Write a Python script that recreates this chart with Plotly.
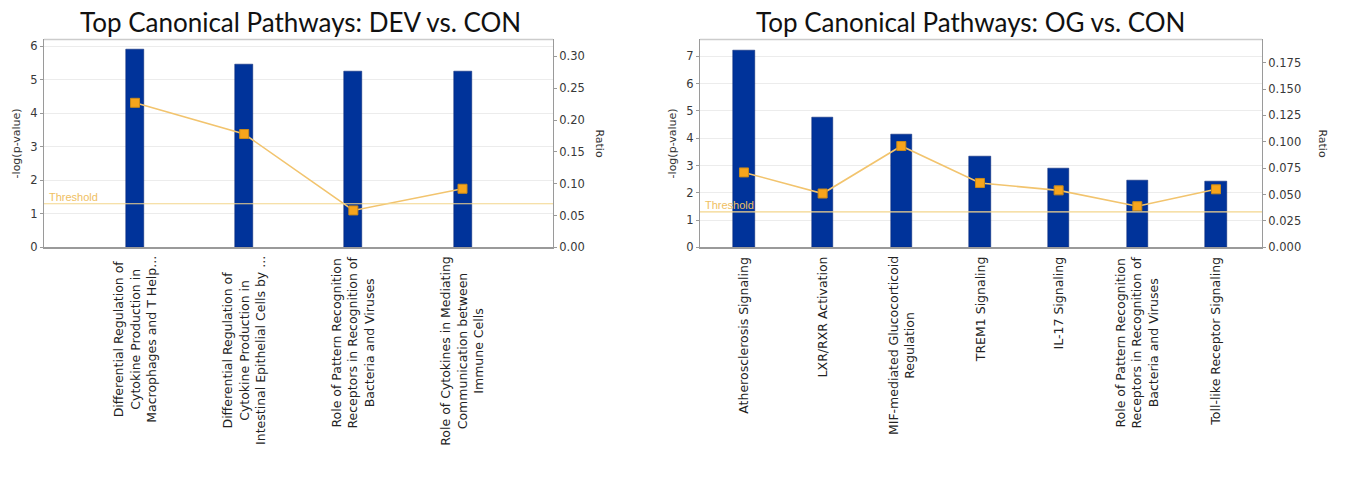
import plotly.graph_objects as go

# ---------------- data ----------------
dev_categories = [
    "Differential Regulation of<br>Cytokine Production in<br>Macrophages and T Help...",
    "Differential Regulation of<br>Cytokine Production in<br>Intestinal Epithelial Cells by ...",
    "Role of Pattern Recognition<br>Receptors in Recognition of<br>Bacteria and Viruses",
    "Role of Cytokines in Mediating<br>Communication between<br>Immune Cells",
]
dev_logp = [5.9, 5.45, 5.25, 5.25]
dev_ratio = [0.227, 0.178, 0.058, 0.092]

og_categories = [
    "Atherosclerosis Signaling",
    "LXR/RXR Activation",
    "MIF-mediated Glucocorticoid<br>Regulation",
    "TREM1 Signaling",
    "IL-17 Signaling",
    "Role of Pattern Recognition<br>Receptors in Recognition of<br>Bacteria and Viruses",
    "Toll-like Receptor Signaling",
]
og_logp = [7.2, 4.75, 4.13, 3.35, 2.9, 2.44, 2.4]
og_ratio = [0.071, 0.051, 0.096, 0.061, 0.054, 0.039, 0.055]

threshold = 1.3
titles = ["Top Canonical Pathways: DEV vs. CON", "Top Canonical Pathways: OG vs. CON"]
dev_left_ticks = [0, 1, 2, 3, 4, 5, 6]
dev_right_ticks = [0.0, 0.05, 0.10, 0.15, 0.20, 0.25, 0.30]
og_left_ticks = [0, 1, 2, 3, 4, 5, 6, 7]
og_right_ticks = [0.0, 0.025, 0.05, 0.075, 0.10, 0.125, 0.15, 0.175]

# ---------------- style ----------------
W, H = 1345, 481
BAR = "#00339a"
LINE = "#f2c46e"
MARK = "#f7a51c"
MARK_EDGE = "#c98a1a"
THR = "#f3d68c"
AX = "#9a9a9a"
GRID = "#ececec"
TICKFONT = dict(family="DejaVu Sans", size=11.5, color="#383838")
CATFONT = dict(family="DejaVu Sans", size=12.5, color="#222222")

ydom = [(H - 251) / H, (H - 40) / H]
x1dom = [44 / W, 553 / W]
x2dom = [700 / W, 1262 / W]

dev_x = list(range(len(dev_categories)))
og_x = list(range(len(og_categories)))

fig = go.Figure()

# left chart
fig.add_trace(go.Bar(x=dev_x, y=dev_logp, width=0.165, marker=dict(color=BAR, line=dict(color="#002070", width=0.5)),
                     xaxis="x", yaxis="y", showlegend=False, hoverinfo="y"))
fig.add_trace(go.Scatter(x=dev_x, y=dev_ratio, mode="lines+markers", line=dict(color=LINE, width=1.6),
                         marker=dict(symbol="square", size=9, color=MARK, line=dict(color=MARK_EDGE, width=1)),
                         xaxis="x", yaxis="y2", showlegend=False))
# right chart
fig.add_trace(go.Bar(x=og_x, y=og_logp, width=0.27, marker=dict(color=BAR, line=dict(color="#002070", width=0.5)),
                     xaxis="x2", yaxis="y3", showlegend=False, hoverinfo="y"))
fig.add_trace(go.Scatter(x=og_x, y=og_ratio, mode="lines+markers", line=dict(color=LINE, width=1.6),
                         marker=dict(symbol="square", size=9, color=MARK, line=dict(color=MARK_EDGE, width=1)),
                         xaxis="x2", yaxis="y4", showlegend=False))

common_x = dict(showticklabels=False, showgrid=False, zeroline=False, showline=True, linecolor=AX,
                linewidth=1.5, ticks="", fixedrange=True)
common_yl = dict(showgrid=True, gridcolor=GRID, gridwidth=1, zeroline=False, showline=True, linecolor=AX,
                 linewidth=1, ticks="outside", ticklen=3, tickcolor=AX, tickfont=TICKFONT, domain=ydom)
common_yr = dict(showgrid=False, zeroline=False, showline=True, linecolor=AX, linewidth=1,
                 ticks="outside", ticklen=3, tickcolor=AX, tickfont=TICKFONT, side="right")

fig.update_layout(
    width=W, height=H, margin=dict(l=0, r=0, t=0, b=0),
    paper_bgcolor="white", plot_bgcolor="white",
    xaxis=dict(domain=x1dom, range=[-0.834, 3.829], anchor="y", **common_x),
    yaxis=dict(range=[0, 6.2], tickvals=dev_left_ticks, anchor="x", **common_yl),
    yaxis2=dict(range=[0, 0.3266], tickvals=dev_right_ticks, tickformat=".2f", overlaying="y",
                anchor="x", **common_yr),
    xaxis2=dict(domain=x2dom, range=[-0.559, 6.585], anchor="y3", **common_x),
    yaxis3=dict(range=[0, 7.62], tickvals=og_left_ticks, anchor="x2", **common_yl),
    yaxis4=dict(range=[0, 0.197], tickvals=og_right_ticks, tickformat=".3f", overlaying="y3",
                anchor="x2", **common_yr),
    bargap=0,
)

shapes = []
annotations = []
for xr, yr, dom in [("x", "y", x1dom), ("x2", "y3", x2dom)]:
    shapes.append(dict(type="line", xref=f"{xr} domain", yref=yr, x0=0, x1=1, y0=threshold, y1=threshold,
                       line=dict(color=THR, width=1.2), layer="above"))
    shapes.append(dict(type="line", xref="paper", yref="paper", x0=dom[0], x1=dom[1], y0=ydom[1], y1=ydom[1],
                       line=dict(color="#cccccc", width=1.5)))
    annotations.append(dict(text="Threshold", xref=f"{xr} domain", yref=yr, x=0.006, y=threshold,
                            xanchor="left", yanchor="bottom", yshift=-1, showarrow=False,
                            font=dict(family="Liberation Sans", size=11, color="#efc062")))

# category labels
for xr, cats, xs in [("x", dev_categories, dev_x), ("x2", og_categories, og_x)]:
    for xv, c in zip(xs, cats):
        annotations.append(dict(text=c, xref=xr, yref="paper", x=xv, y=(H - 258) / H,
                                xanchor="center", yanchor="top", textangle=-90, align="center",
                                showarrow=False, font=CATFONT))

# titles
annotations.append(dict(text=titles[0], xref="paper", yref="paper", x=300 / W, y=1 - 4 / H,
                        xanchor="center", yanchor="top", showarrow=False,
                        font=dict(family="Lato", size=26, color="#111111")))
annotations.append(dict(text=titles[1], xref="paper", yref="paper", x=970 / W, y=1 - 4 / H,
                        xanchor="center", yanchor="top", showarrow=False,
                        font=dict(family="Lato", size=26, color="#111111")))

# axis titles
ymid = (ydom[0] + ydom[1]) / 2
for xpix in [16, 672]:
    annotations.append(dict(text="-log(p-value)", xref="paper", yref="paper", x=xpix / W, y=ymid,
                            xanchor="center", yanchor="middle", textangle=-90, showarrow=False,
                            font=dict(family="DejaVu Sans", size=11, color="#333333")))
for xpix in [600, 1323]:
    annotations.append(dict(text="Ratio", xref="paper", yref="paper", x=xpix / W, y=ymid,
                            xanchor="center", yanchor="middle", textangle=90, showarrow=False,
                            font=dict(family="DejaVu Sans", size=11, color="#333333")))

fig.update_layout(shapes=shapes, annotations=annotations)

fig.write_html("out.html", config={"displayModeBar": False},
               post_script="document.body.style.margin='0';")
